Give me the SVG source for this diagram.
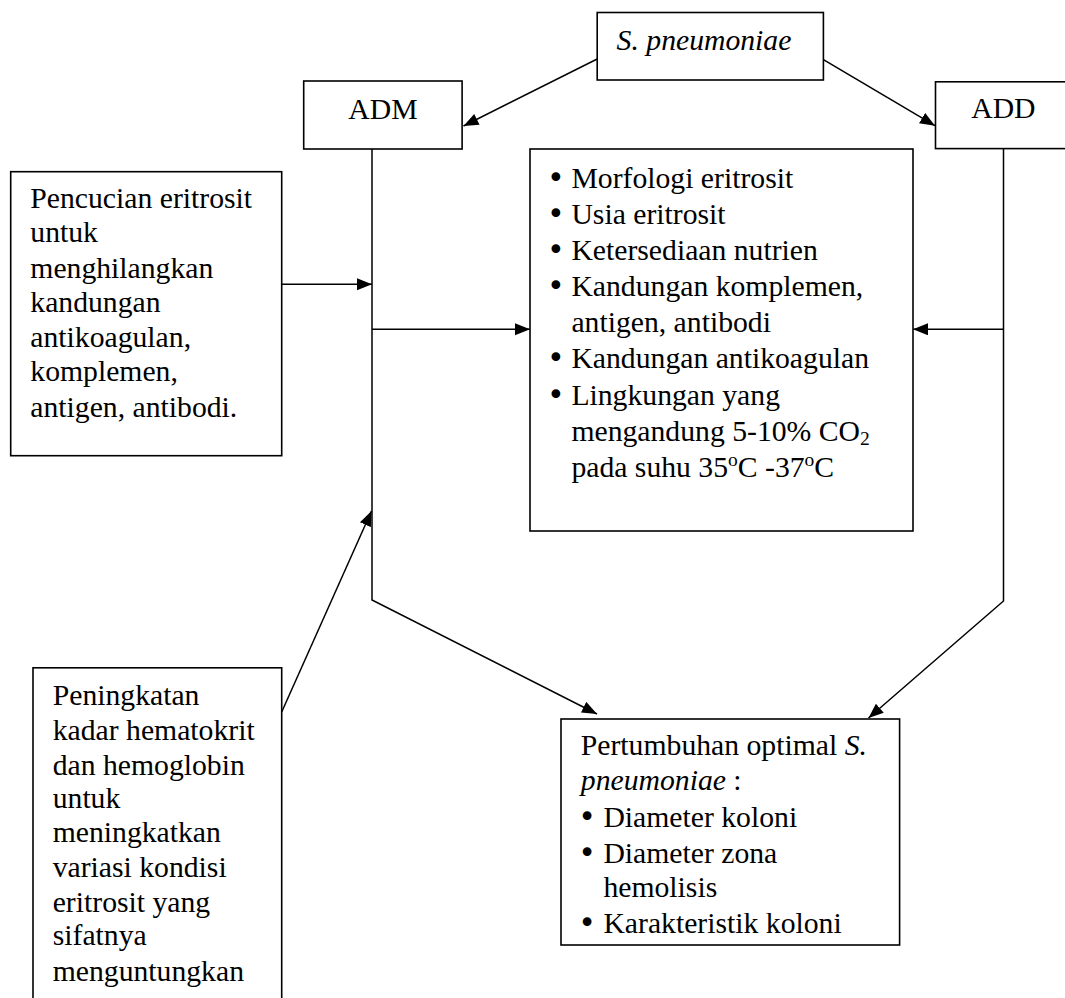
<svg xmlns="http://www.w3.org/2000/svg" width="1065" height="998" viewBox="0 0 1065 998">
<style>
  .box { fill: #ffffff; stroke: #000000; stroke-width: 1.6; }
  .t { font-family: "Liberation Serif", "Times New Roman", serif; font-size: 29.7px; fill: #000000; }
  .b { font-family: "DejaVu Sans", sans-serif; font-size: 30px; text-anchor: middle; }
  .i { font-style: italic; }
  .sup { font-size: 19.5px; }
  .conn { fill: none; stroke: #000000; stroke-width: 1.5; marker-end: url(#arrow); }
</style>
<defs>
  <marker id="arrow" markerUnits="userSpaceOnUse" markerWidth="16" markerHeight="13" refX="15" refY="6" orient="auto">
    <path d="M0,0 L15,6 L0,12 Z" fill="#000000"/>
  </marker>
</defs>
<rect width="1065" height="998" fill="#ffffff"/>

<g id="connectors">
  <path class="conn" d="M597.2,59 L463.5,126"/>
  <path class="conn" d="M823.4,59.6 L935,125.7"/>
  <path class="conn" d="M372,149 L372,600 L597,714"/>
  <path class="conn" d="M1003.5,148.6 L1003.5,601 L868.5,718"/>
  <path class="conn" d="M281.7,284.3 L372,284.3"/>
  <path class="conn" d="M372,329.3 L530,329.3"/>
  <path class="conn" d="M1003.5,329.3 L913,329.3"/>
  <path class="conn" d="M281.7,712 L371.5,511"/>
</g>

<g id="s-pneumoniae">
  <rect class="box" x="597.2" y="12.5" width="226.2" height="67.5"/>
  <text class="t i" x="616.6" y="50">S. pneumoniae</text>
</g>

<g id="adm">
  <rect class="box" x="303.7" y="81" width="158.4" height="68"/>
  <text class="t" x="383" y="119" text-anchor="middle">ADM</text>
</g>

<g id="add">
  <rect class="box" x="935.5" y="81.8" width="140" height="66.8"/>
  <text class="t" x="971.2" y="117.9">ADD</text>
</g>

<g id="pencucian">
  <rect class="box" x="10.7" y="171.7" width="271" height="284"/>
  <text class="t" x="30.3" y="208.3">Pencucian eritrosit</text>
  <text class="t" x="30.3" y="242.3">untuk</text>
  <text class="t" x="30.3" y="277.7">menghilangkan</text>
  <text class="t" x="30.3" y="311.7">kandungan</text>
  <text class="t" x="30.3" y="346.7">antikoagulan,</text>
  <text class="t" x="30.3" y="381">komplemen,</text>
  <text class="t" x="30.3" y="416.7">antigen, antibodi.</text>
</g>

<g id="faktor">
  <rect class="box" x="530" y="149" width="383" height="382"/>
  <text class="t" y="187.5"><tspan class="b" x="555.8">•</tspan><tspan x="571.4">Morfologi eritrosit</tspan></text>
  <text class="t" y="223.7"><tspan class="b" x="555.8">•</tspan><tspan x="571.4">Usia eritrosit</tspan></text>
  <text class="t" y="259.8"><tspan class="b" x="555.8">•</tspan><tspan x="571.4">Ketersediaan nutrien</tspan></text>
  <text class="t" y="296"><tspan class="b" x="555.8">•</tspan><tspan x="571.4">Kandungan komplemen,</tspan></text>
  <text class="t" x="571.4" y="332.1">antigen, antibodi</text>
  <text class="t" y="368.3"><tspan class="b" x="555.8">•</tspan><tspan x="571.4">Kandungan antikoagulan</tspan></text>
  <text class="t" y="404.5"><tspan class="b" x="555.8">•</tspan><tspan x="571.4">Lingkungan yang</tspan></text>
  <text class="t" x="571.4" y="440.6">mengandung 5-10% CO<tspan class="sup" dy="4">2</tspan></text>
  <text class="t" x="571.4" y="476.8">pada suhu 35<tspan class="sup" dy="-11">o</tspan><tspan dy="11">C -37</tspan><tspan class="sup" dy="-11">o</tspan><tspan dy="11">C</tspan></text>
</g>

<g id="peningkatan">
  <rect class="box" x="33" y="667.8" width="248.7" height="340"/>
  <text class="t" x="52.7" y="705.1">Peningkatan</text>
  <text class="t" x="52.7" y="740">kadar hematokrit</text>
  <text class="t" x="52.7" y="774.5">dan hemoglobin</text>
  <text class="t" x="52.7" y="808.3">untuk</text>
  <text class="t" x="52.7" y="842.1">meningkatkan</text>
  <text class="t" x="52.7" y="877">variasi kondisi</text>
  <text class="t" x="52.7" y="911.5">eritrosit yang</text>
  <text class="t" x="52.7" y="945.3">sifatnya</text>
  <text class="t" x="52.7" y="981">menguntungkan</text>
</g>

<g id="pertumbuhan">
  <rect class="box" x="561" y="719" width="338.6" height="226"/>
  <text class="t" x="580.8" y="755">Pertumbuhan optimal <tspan class="i">S.</tspan></text>
  <text class="t" x="580.8" y="790"><tspan class="i">pneumoniae</tspan> :</text>
  <text class="t" y="826.7"><tspan class="b" x="587">•</tspan><tspan x="603.4">Diameter koloni</tspan></text>
  <text class="t" y="862.7"><tspan class="b" x="587">•</tspan><tspan x="603.4">Diameter zona</tspan></text>
  <text class="t" x="603.4" y="897.3">hemolisis</text>
  <text class="t" y="933.3"><tspan class="b" x="587">•</tspan><tspan x="603.4">Karakteristik koloni</tspan></text>
</g>
</svg>
